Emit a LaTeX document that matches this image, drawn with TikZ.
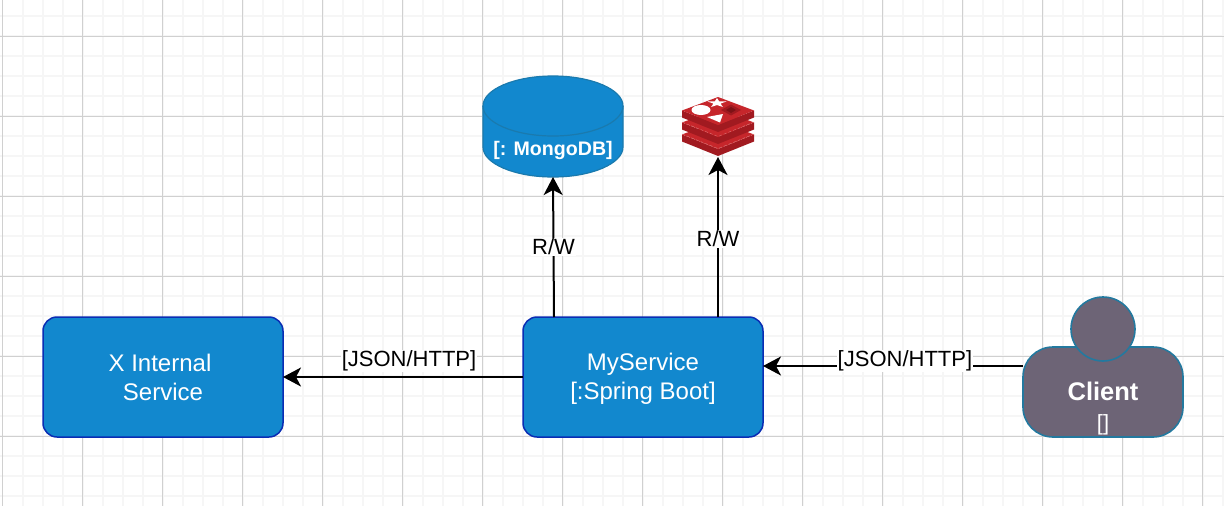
\documentclass[tikz,border=0pt]{standalone}
\usepackage{fontspec}
\setmainfont{Liberation Sans}
\usetikzlibrary{positioning, calc, arrows.meta}
\definecolor{serviceBlue}{HTML}{1288CE}
\definecolor{serviceEdge}{HTML}{0A2DB4}
\definecolor{mongoEdge}{HTML}{1A7AAE}
\definecolor{clientGrey}{HTML}{6D6476}
\definecolor{clientEdge}{HTML}{23799F}
\definecolor{redisLight}{HTML}{C6262B}
\definecolor{redisDark}{HTML}{A11A20}
\definecolor{redisDeep}{HTML}{7E1216}
\definecolor{gridMajor}{HTML}{D0D0D0}
\definecolor{gridMinor}{HTML}{F6F6F6}

\begin{document}
\begin{tikzpicture}[
  x=1pt, y=-1pt,
  % Boxes
  serviceBox/.style={rectangle, rounded corners=14pt, draw=serviceEdge, fill=serviceBlue, line width=1.5pt, minimum width=240pt, minimum height=120pt, outer sep=0pt, text=white, align=center, font=\fontsize{24}{29}\selectfont},
  clientBody/.style={rectangle, rounded corners=30pt, draw=clientEdge, fill=clientGrey, line width=1.6pt, minimum width=160pt, minimum height=90pt, outer sep=0pt},
  clientHead/.style={circle, draw=clientEdge, fill=clientGrey, line width=1.6pt, minimum size=64pt, inner sep=0pt, outer sep=0pt},
  iconBox/.style={inner sep=0pt, outer sep=0pt},
  boldText/.style={text=white, font=\bfseries\fontsize{19.6}{24}\selectfont, inner sep=0pt},
  % Connectors
  link/.style={draw=black, line width=2pt, -{Stealth[length=18pt, width=19pt, inset=5pt]}},
  linkLabel/.style={fill=white, text=black, inner xsep=1pt, inner ysep=1pt, font=\fontsize{22}{26}\selectfont}
  ]

  \useasboundingbox (0,0) rectangle (1224,506);

  % --- Grid ---
  \foreach \gridX in {22.5,42.5,...,1222.5} \draw[gridMinor, line width=2pt] (\gridX,0) -- (\gridX,506);
  \foreach \gridY in {16.3,36.3,...,496.3} \draw[gridMinor, line width=2pt] (0,\gridY) -- (1224,\gridY);
  \foreach \gridX in {2.5,82.5,...,1202.5} \draw[gridMajor, line width=1pt] (\gridX,0) -- (\gridX,506);
  \foreach \gridY in {36.3,116.3,...,436.3} \draw[gridMajor, line width=1pt] (0,\gridY) -- (1224,\gridY);

  % --- Services ---
  \node[serviceBox] (service) at (643,377) {\rule{0pt}{21.5pt}MyService\\{[:Spring Boot]}};
  \node[serviceBox, left=240pt of service] (internal) {X Internal\hspace*{6pt}\\Service};

  % --- Client ---
  \node[clientBody, right=260pt of service, yshift=-15pt] (client) {};
  \node[clientHead, above=-14pt of client.north] (clientTop) {};
  \node[boldText, font=\bfseries\fontsize{25.5}{30}\selectfont] (clientName) at (1103,391) {Client};
  \node[boldText, font=\fontsize{22}{26}\selectfont, below=14pt of clientName] (clientTech) {[]};

  % --- Stores ---
  \node[iconBox, minimum width=140pt, minimum height=101pt] (mongo) at (553,126.5) {};
  \node[iconBox, minimum width=72pt, minimum height=60pt] (redis) at (718,127) {};

  % Mongo drum
  \begin{scope}[shift={(mongo.center)}]
    \filldraw[draw=mongoEdge, fill=serviceBlue, line width=1.2pt] (-70,20.5) .. controls (-70,37.07) and (-38.66,50.5) .. (0,50.5) .. controls (38.66,50.5) and (70,37.07) .. (70,20.5) -- (70,-20.5) .. controls (70,-37.07) and (38.66,-50.5) .. (0,-50.5) .. controls (-38.66,-50.5) and (-70,-37.07) .. (-70,-20.5) -- cycle;
    \draw[mongoEdge, line width=1.2pt] (-70,-20.5) .. controls (-70,-3.93) and (-38.66,9.5) .. (0,9.5) .. controls (38.66,9.5) and (70,-3.93) .. (70,-20.5);
  \end{scope}
  \node[boldText] (mongoName) at (553,150) {[: MongoDB]};

  % Redis icon
  \begin{scope}[shift={(redis.center)}]
    \foreach \layerY in {24,12,0} {
      \fill[redisDark] (-36,-16.5+\layerY) -- (0,-2+\layerY) -- (36,-16.5+\layerY) -- (36,-9.5+\layerY) -- (0,5+\layerY) -- (-36,-9.5+\layerY) -- cycle;
      \fill[redisLight] (0,-30+\layerY) -- (36,-16.5+\layerY) -- (0,-2+\layerY) -- (-36,-16.5+\layerY) -- cycle;
    }
    \draw[white!45!redisLight, line width=0.25pt, densely dashed] (-36,-5) -- (0,9.5) -- (36,-5);
    \draw[white!45!redisLight, line width=0.25pt, densely dashed] (-36,7) -- (0,21.5) -- (36,7);
    % Marks on the top face
    \fill[white] (-17,-17) ellipse (9.5 and 5);
    \fill[white] (-1,-29) -- (1.2,-25.6) -- (8.5,-25.5) -- (2.6,-23.4) -- (4.9,-20) -- (-1,-22) -- (-6.9,-20) -- (-4.6,-23.4) -- (-10.5,-25.5) -- (-3.2,-25.6) -- cycle;
    \fill[white] (-11,-10) -- (5,-13) -- (2,-4.5) -- cycle;
    \fill[redisDark] (3,-17) -- (13,-22.5) -- (23,-17) -- (13,-11.5) -- cycle;
    \fill[redisDeep] (8,-17) -- (13,-20) -- (18,-17) -- (13,-14) -- cycle;
  \end{scope}

  % --- Wiring ---
  \coordinate (serviceIn) at ($(service.east)+(0,-11)$);
  \coordinate (mongoOut) at ($(service.north west)+(31,0)$);
  \coordinate (redisOut) at ($(service.north west)+(195,0)$);

  \draw[link] (service.west) -- node[linkLabel, pos=0.475, yshift=16pt] {[JSON/HTTP]} (internal.east);
  \draw[link] (client.west |- serviceIn) -- node[linkLabel, pos=0.454, yshift=5pt] {[JSON/HTTP]} (serviceIn);
  \draw[link] (mongoOut) -- node[linkLabel] {R/W} (mongo.south);
  \draw[link] (redisOut) -- node[linkLabel, yshift=-2pt] {R/W} (redis.south);

\end{tikzpicture}
\end{document}
